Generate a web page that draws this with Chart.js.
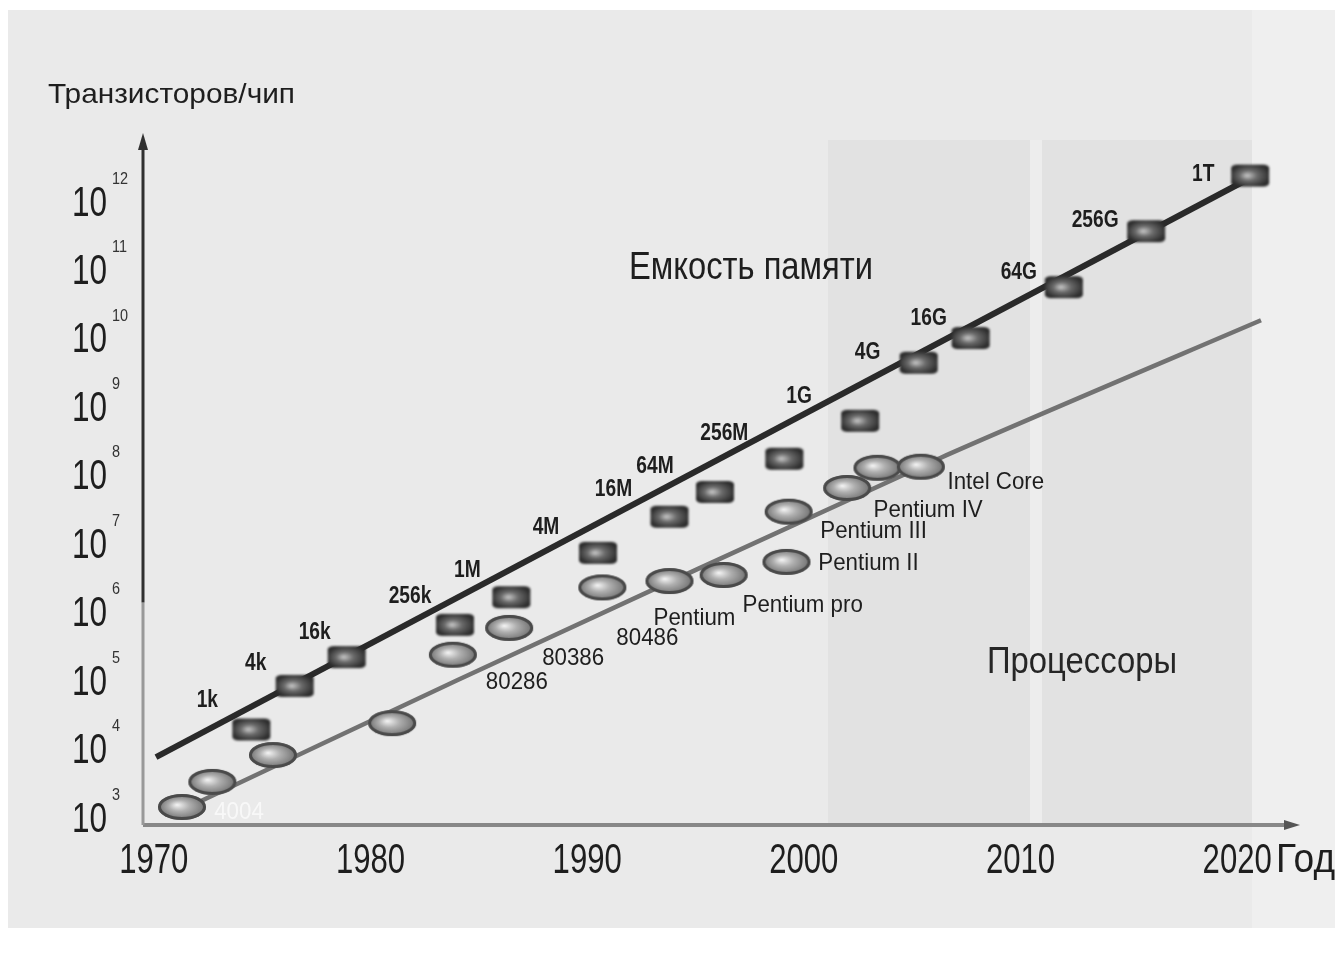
<!DOCTYPE html>
<html lang="ru">
<head>
<meta charset="utf-8">
<title>Транзисторов/чип</title>
<script src="https://cdn.jsdelivr.net/npm/chart.js@4.4.1/dist/chart.umd.min.js"></script>
<style>
  html, body { margin: 0; padding: 0; background: #fff; }
  #wrap { width: 1335px; height: 953px; }
</style>
</head>
<body>
<div id="wrap"><canvas id="grafico" width="1335" height="953"></canvas></div>
<script>
// Данные (год, транзисторов на чип)
const memYears  = [1974.5, 1976.5, 1978.9, 1983.9, 1986.5, 1990.5, 1993.8, 1995.9, 1999.1, 2002.6, 2005.3, 2007.7, 2012.0, 2015.8, 2020.6];
const memValues = [2.1e4, 9.1e4, 2.4e5, 7.1e5, 1.8e6, 8.0e6, 2.7e7, 6.2e7, 1.9e8, 6.8e8, 4.8e9, 1.1e10, 6.1e10, 4.0e11, 2.6e12];
const memLabels = ['1k', '4k', '16k', '256k', '1M', '4M', '16M', '64M', '256M', '1G', '4G', '16G', '64G', '256G', '1T'];

const cpuYears  = [1971.3, 1972.7, 1975.5, 1981.0, 1983.8, 1986.4, 1990.7, 1993.8, 1996.3, 1999.2, 1999.3, 2002.0, 2003.4, 2005.4];
const cpuValues = [1.55e3, 3.6e3, 8.9e3, 2.6e4, 2.6e5, 6.4e5, 2.5e6, 3.1e6, 3.8e6, 5.9e6, 3.2e7, 7.1e7, 1.4e8, 1.45e8];
const cpuLabels = ['4004', '', '', '', '80286', '80386', '80486', 'Pentium', 'Pentium pro', 'Pentium II', 'Pentium III', 'Pentium IV', '', 'Intel Core'];

// линии тренда
const memTrendYears  = [1970.1, 2020.6];
const memTrendValues = [8.3e3, 2.4e12];
const cpuTrendYears  = [1971.2, 1984.0, 2006.3, 2021.1];
const cpuTrendValues = [1.35e3, 1.1e5, 1.95e8, 2.0e10];

const yearTicks = [1970, 1980, 1990, 2000, 2010, 2020];
const powerTicks = [3, 4, 5, 6, 7, 8, 9, 10, 11, 12];

const yTitle = 'Транзисторов/чип';
const xTitle = 'Год';
const memTitle = 'Емкость памяти';
const cpuTitle = 'Процессоры';

// смещения подписей относительно маркеров (пиксели)
const memLabelOffsets = [[-44, -29], [-39, -23], [-32, -25], [-45, -28], [-44, -27], [-52, -25], [-56, -27], [-60, -26],
  [-60, -25], [-61, -24], [-51, -10], [-42, -20], [-45, -15], [-51, -11], [-47, -1]];
const cpuLabelOffsets = [[57, 5], [0, 0], [0, 0], [0, 0], [64, 28], [64, 30], [45, 51], [25, 37], [79, 30], [82, 1],
  [85, 20], [81, 22], [0, 0], [75, 16]];

const FONT = '"Liberation Sans", Arial, Helvetica, sans-serif';

function toPoints(xs, ys) {
    return xs.map((x, i) => ({ x: x, y: ys[i] }));
}

// Текст со сжатием по горизонтали (как узкий Helvetica в оригинале)
function drawText(ctx, txt, x, y, o) {
    ctx.save();
    ctx.font = (o.weight || 'normal') + ' ' + o.size + 'px ' + FONT;
    const w = ctx.measureText(txt).width;
    const sx = o.width ? o.width / w : (o.squeeze || 1);
    ctx.translate(x, y);
    ctx.scale(sx, 1);
    ctx.textAlign = o.align || 'center';
    ctx.textBaseline = o.baseline || 'middle';
    ctx.fillStyle = o.color || '#262626';
    ctx.fillText(txt, 0, 0);
    ctx.restore();
}

// Маркеры: овал процессора и прямоугольник памяти
function crearOvalo(w, h) {
    const c = document.createElement('canvas');
    c.width = w + 8; c.height = h + 8;
    const g = c.getContext('2d');
    const cx = c.width / 2, cy = c.height / 2;
    g.filter = 'blur(0.7px)';
    g.save();
    g.translate(cx, cy);
    g.scale(1, h / w);
    const grad = g.createRadialGradient(-w * 0.1, -w * 0.08, 1, 0, 0, w / 2);
    grad.addColorStop(0, '#eeeeee');
    grad.addColorStop(0.4, '#b0b0b0');
    grad.addColorStop(1, '#6e6e6e');
    g.beginPath();
    g.arc(0, 0, w / 2, 0, Math.PI * 2);
    g.fillStyle = grad;
    g.fill();
    g.restore();
    g.beginPath();
    g.ellipse(cx, cy, w / 2 - 1.5, h / 2 - 1.5, 0, 0, Math.PI * 2);
    g.strokeStyle = '#4a4a4a';
    g.lineWidth = 3;
    g.stroke();
    return c;
}

function crearCuadro(w, h) {
    const c = document.createElement('canvas');
    c.width = w + 8; c.height = h + 8;
    const g = c.getContext('2d');
    const cx = c.width / 2, cy = c.height / 2;
    g.filter = 'blur(1.2px)';
    g.save();
    g.translate(cx, cy);
    g.scale(1, h / w);
    const grad = g.createRadialGradient(-w * 0.08, 0, 1, 0, 0, w * 0.55);
    grad.addColorStop(0, '#c0c0c0');
    grad.addColorStop(0.4, '#6a6a6a');
    grad.addColorStop(1, '#2a2a2a');
    g.fillStyle = grad;
    g.beginPath();
    g.roundRect(-w / 2, -w / 2, w, w, 6);
    g.fill();
    g.restore();
    return c;
}

const ovalo = crearOvalo(48, 26);
const cuadro = crearCuadro(38, 22);

// Фон "скана"
const fondoPlugin = {
    id: 'fondo',
    beforeDraw(chart) {
        const ctx = chart.ctx;
        ctx.save();
        ctx.fillStyle = '#ffffff';
        ctx.fillRect(0, 0, chart.width, chart.height);
        ctx.fillStyle = '#eaeaea';
        ctx.fillRect(8, 10, chart.width - 8, 918);
        ctx.fillStyle = '#e2e2e2';
        ctx.fillRect(828, 140, 424, 686);
        ctx.fillStyle = '#ededed';
        ctx.fillRect(1030, 140, 12, 686);
        ctx.fillStyle = '#efefef';
        ctx.fillRect(1252, 10, chart.width - 1252, 918);
        ctx.restore();
    }
};

// Оси со стрелками
const ejesPlugin = {
    id: 'ejes',
    beforeDatasetsDraw(chart) {
        const ctx = chart.ctx;
        const a = chart.chartArea;
        ctx.save();
        ctx.lineCap = 'butt';
        // ось X
        ctx.strokeStyle = '#888';
        ctx.lineWidth = 4;
        ctx.beginPath();
        ctx.moveTo(a.left, a.bottom);
        ctx.lineTo(a.right - 14, a.bottom);
        ctx.stroke();
        ctx.fillStyle = '#555';
        ctx.beginPath();
        ctx.moveTo(a.right, a.bottom);
        ctx.lineTo(a.right - 16, a.bottom - 5);
        ctx.lineTo(a.right - 16, a.bottom + 5);
        ctx.closePath();
        ctx.fill();
        // ось Y
        const yMid = chart.scales.y.getPixelForValue(1.5e6);
        ctx.lineWidth = 3;
        ctx.strokeStyle = '#999';
        ctx.beginPath();
        ctx.moveTo(a.left, a.bottom);
        ctx.lineTo(a.left, yMid);
        ctx.stroke();
        ctx.strokeStyle = '#303030';
        ctx.beginPath();
        ctx.moveTo(a.left, yMid);
        ctx.lineTo(a.left, a.top + 14);
        ctx.stroke();
        ctx.fillStyle = '#303030';
        ctx.beginPath();
        ctx.moveTo(a.left, a.top);
        ctx.lineTo(a.left - 5, a.top + 17);
        ctx.lineTo(a.left + 5, a.top + 17);
        ctx.closePath();
        ctx.fill();
        ctx.restore();
    }
};

// Подписи делений, названия и метки точек
const textosPlugin = {
    id: 'textos',
    afterDatasetsDraw(chart) {
        const ctx = chart.ctx;
        const sx = chart.scales.x, sy = chart.scales.y;

        yearTicks.forEach(t => {
            drawText(ctx, String(t), sx.getPixelForValue(t), 873, { size: 42, squeeze: 0.74, baseline: 'alphabetic', color: '#1e1e1e' });
        });
        powerTicks.forEach(p => {
            const y = sy.getPixelForValue(Math.pow(10, p));
            drawText(ctx, '10', 107, y, { size: 42, squeeze: 0.75, align: 'right', color: '#1e1e1e' });
            drawText(ctx, String(p), 112, y - 25, { size: 17, squeeze: 0.85, align: 'left', color: '#333' });
        });

        drawText(ctx, yTitle, 48, 103, { size: 28, width: 247, align: 'left', baseline: 'alphabetic', color: '#1e1e1e' });
        drawText(ctx, xTitle, 1276, 872, { size: 40, width: 59, align: 'left', baseline: 'alphabetic', color: '#1e1e1e' });
        drawText(ctx, memTitle, 629, 279, { size: 38, width: 244, align: 'left', baseline: 'alphabetic', color: '#1e1e1e' });
        drawText(ctx, cpuTitle, 987, 673, { size: 36, width: 190, align: 'left', baseline: 'alphabetic', color: '#262626' });

        const memMeta = chart.getDatasetMeta(0);
        memMeta.data.forEach((pt, i) => {
            const off = memLabelOffsets[i];
            drawText(ctx, memLabels[i], pt.x + off[0], pt.y + off[1], { size: 24, weight: 'bold', squeeze: 0.8, color: '#1e1e1e' });
        });
        const cpuMeta = chart.getDatasetMeta(1);
        cpuMeta.data.forEach((pt, i) => {
            if (!cpuLabels[i]) return;
            const off = cpuLabelOffsets[i];
            const faint = i === 0;
            drawText(ctx, cpuLabels[i], pt.x + off[0], pt.y + off[1], {
                size: 24, squeeze: 0.93, color: faint ? 'rgba(250,250,250,0.9)' : '#1e1e1e'
            });
        });
    }
};

const ctx = document.getElementById('grafico').getContext('2d');
const chart = new Chart(ctx, {
    type: 'scatter',
    data: {
        datasets: [
            {
                label: memTitle,
                data: toPoints(memYears, memValues),
                pointStyle: cuadro,
                pointRadius: 10,
                showLine: false,
                order: 1
            },
            {
                label: cpuTitle,
                data: toPoints(cpuYears, cpuValues),
                pointStyle: ovalo,
                pointRadius: 10,
                showLine: false,
                order: 0
            },
            {
                label: 'memTrend',
                data: toPoints(memTrendYears, memTrendValues),
                showLine: true,
                borderColor: '#2a2a2a',
                borderWidth: 6,
                pointRadius: 0,
                order: 3
            },
            {
                label: 'cpuTrend',
                data: toPoints(cpuTrendYears, cpuTrendValues),
                showLine: true,
                borderColor: '#727272',
                borderWidth: 4.5,
                tension: 0.2,
                pointRadius: 0,
                order: 4
            }
        ]
    },
    options: {
        responsive: false,
        animation: false,
        devicePixelRatio: 1,
        layout: { padding: { left: 143, right: 35, top: 133, bottom: 128 } },
        scales: {
            x: { type: 'linear', min: 1969.5, max: 2022.9, display: false },
            y: { type: 'logarithmic', min: 845, max: 1.09e13, display: false }
        },
        plugins: {
            legend: { display: false },
            tooltip: { enabled: false }
        }
    },
    plugins: [fondoPlugin, ejesPlugin, textosPlugin]
});
</script>
</body>
</html>
